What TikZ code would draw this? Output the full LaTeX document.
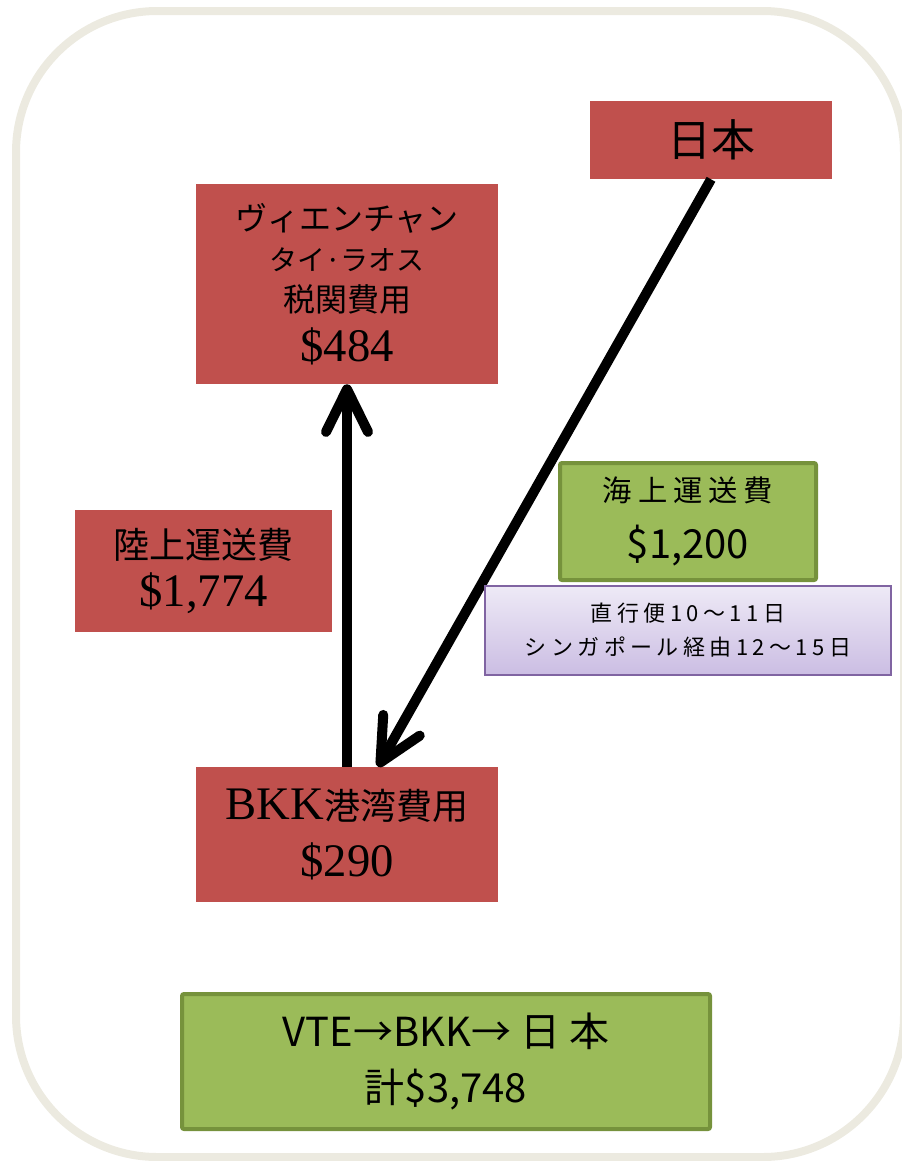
\documentclass[tikz,border=0pt]{standalone}
\usepackage{fontspec}
\setmainfont{Liberation Serif}
\newfontfamily\jpfont{Noto Sans CJK JP}
\newfontfamily\jpwide[LetterSpace=20]{Noto Sans CJK JP}
\usetikzlibrary{arrows.meta,calc}
\definecolor{boxred}{HTML}{C0504D}
\definecolor{boxgreen}{HTML}{9BBB59}
\definecolor{greenline}{HTML}{76923C}
\definecolor{frameline}{HTML}{ECEAE0}
\definecolor{purpleline}{HTML}{8064A2}
\definecolor{purpletop}{HTML}{EEEAF6}
\definecolor{purplebot}{HTML}{CBBDE3}

\begin{document}
\begin{tikzpicture}[x=0.75pt, y=-0.75pt,
  redbox/.style={fill=boxred, inner sep=0pt, align=center},
  greenbox/.style={fill=boxgreen, draw=greenline, line width=3pt, rounded corners=1.5pt, inner sep=0pt, align=center},
  daysbox/.style={top color=purpletop, bottom color=purplebot, draw=purpleline, line width=1.5pt, inner sep=0pt, align=center},
  fat/.style={line width=7.5pt, -{Straight Barb[length=32pt, width=31.5pt, round]}}]

\useasboundingbox (0,0) rectangle (902,1161);
\draw[frameline, line width=6pt, rounded corners=106pt] (16,11) rectangle (904,1157);

\node[redbox, minimum width=181.5pt, minimum height=58.5pt, font=\jpfont\fontsize{33}{40}\selectfont] (japan) at (711,140) {日本};
\node[redbox, minimum width=226.5pt, minimum height=150pt, font=\fontsize{24}{30.5}\selectfont] (vte) at (347,284)
  {{\jpfont ヴィエンチャン}\\{\jpfont\fontsize{21}{30.5}\selectfont タイ·ラオス}\\{\jpfont 税関費用}\\[7pt]{\fontsize{35}{30.5}\selectfont\$484}};
\node[redbox, minimum width=192.75pt, minimum height=91.5pt, font=\fontsize{27}{36}\selectfont] (land) at (203.5,571)
  {{\jpfont 陸上運送費}\\{\fontsize{35}{36}\selectfont\$1,774}};
\node[redbox, minimum width=226.5pt, minimum height=101.25pt, font=\fontsize{27}{43}\selectfont] (bkk) at (347,834.5)
  {{\fontsize{35}{43}\selectfont BKK}{\jpfont 港湾費用}\\{\fontsize{35}{43}\selectfont\$290}};
\node[greenbox, minimum width=192pt, minimum height=87.75pt, font=\jpfont\fontsize{30}{43}\selectfont] (sea) at (688,521.5)
  {{\jpwide\fontsize{22}{43}\selectfont 海上運送費}\\\$1,200};
\node[greenbox, minimum width=396pt, minimum height=101.25pt, font=\jpfont\fontsize{30}{42}\selectfont] (total) at (446,1061.5)
  {VTE→BKK→ 日 本\\計\$3,748};

\draw[fat] (bkk.north) -- (vte.south);
\draw[fat] (japan.south) -- ($(bkk.north)+(31,0)$);

\node[daysbox, minimum width=304.5pt, minimum height=66.75pt, font=\jpwide\fontsize{16.5}{25.5}\selectfont] (days) at (688,630.5)
  {直行便10〜11日\\シンガポール経由12〜15日};
\end{tikzpicture}
\end{document}
